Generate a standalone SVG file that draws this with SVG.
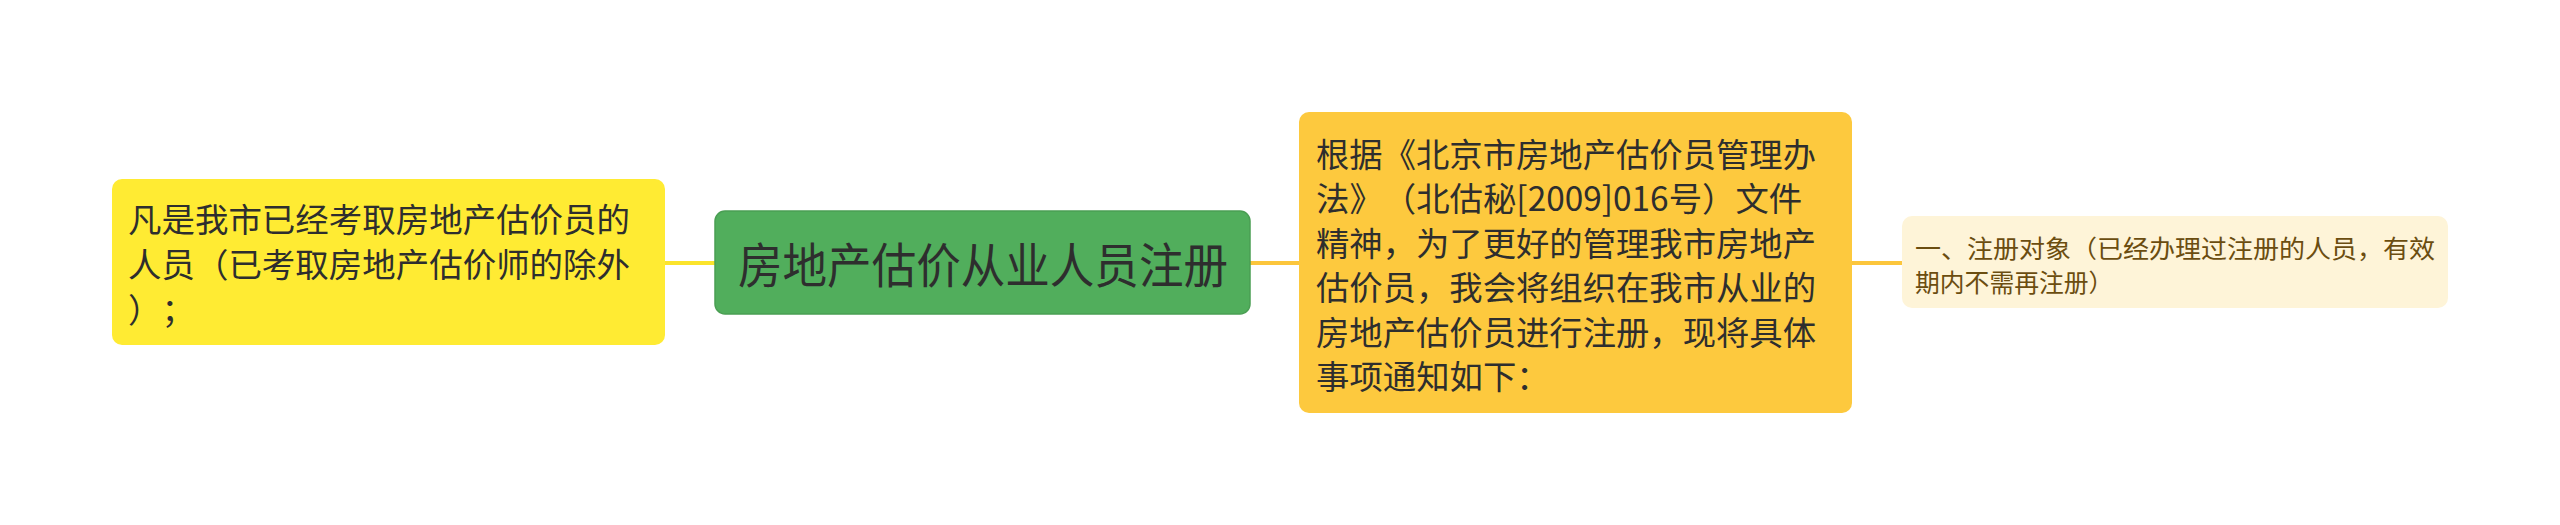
<svg xmlns="http://www.w3.org/2000/svg" width="2560" height="525" viewBox="0 0 2560 525">
<style>
text{font-family:"Noto Sans CJK SC","Noto Sans",sans-serif;dominant-baseline:central;text-spacing-trim:space-all}
.t33{font-size:33.4px;fill:#2e2e2e}
.t48{font-size:48px;fill:#2e2e2e}
.t25{font-size:24.8px;fill:#6b4d10}
.ln{fill:none;stroke-width:4}
</style>
<rect width="2560" height="525" fill="#ffffff"/>
<g id="connectors">
<line class="ln" x1="665" y1="263" x2="716" y2="263" stroke="#fbe42c"/>
<line class="ln" x1="1249" y1="263" x2="1300" y2="263" stroke="#fcc63c"/>
<line class="ln" x1="1852" y1="263" x2="1903" y2="263" stroke="#fcc63c"/>
</g>
<g id="left">
<rect x="112" y="179" width="553" height="166" rx="10" fill="#ffeb33"/>
<text class="t33" x="128" y="217" textLength="502" lengthAdjust="spacingAndGlyphs">凡是我市已经考取房地产估价员的</text>
<text class="t33" x="128" y="262" textLength="502" lengthAdjust="spacingAndGlyphs">人员（已考取房地产估价师的除外</text>
<text class="t33" x="128" y="307">）；</text>
</g>
<g id="center">
<rect x="715" y="211" width="535" height="103" rx="10" fill="#51ae5c" stroke="#4a9e53" stroke-width="1.5"/>
<text class="t48" x="738" y="262" textLength="490" lengthAdjust="spacingAndGlyphs">房地产估价从业人员注册</text>
</g>
<g id="right">
<rect x="1299" y="112" width="553" height="301" rx="10" fill="#fdc93e"/>
<text class="t33" x="1316" y="152" textLength="500" lengthAdjust="spacingAndGlyphs">根据《北京市房地产估价员管理办</text>
<text class="t33" x="1316" y="196.5">法》（北估秘[2009]016号）文件</text>
<text class="t33" x="1316" y="241" textLength="500" lengthAdjust="spacingAndGlyphs">精神，为了更好的管理我市房地产</text>
<text class="t33" x="1316" y="285.5" textLength="500" lengthAdjust="spacingAndGlyphs">估价员，我会将组织在我市从业的</text>
<text class="t33" x="1316" y="330" textLength="500" lengthAdjust="spacingAndGlyphs">房地产估价员进行注册，现将具体</text>
<text class="t33" x="1316" y="374.5">事项通知如下：</text>
</g>
<g id="far-right">
<rect x="1902" y="216" width="546" height="92" rx="10" fill="#fef4d8"/>
<text class="t25" x="1915" y="247" textLength="520" lengthAdjust="spacingAndGlyphs">一、注册对象（已经办理过注册的人员，有效</text>
<text class="t25" x="1915" y="281">期内不需再注册）</text>
</g>
</svg>
